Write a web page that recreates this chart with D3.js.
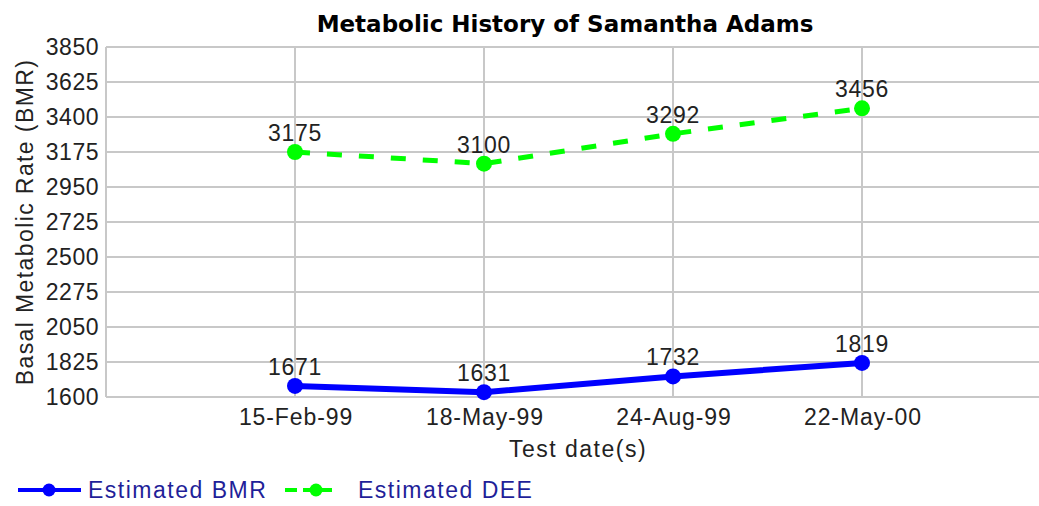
<!DOCTYPE html>
<html>
<head>
<meta charset="utf-8">
<script src="https://cdn.jsdelivr.net/npm/d3@7"></script>
<style>
  body { margin: 0; background: #fff; }
  text { font-family: "Liberation Sans", Arial, sans-serif; }
</style>
</head>
<body>
<div id="chart"></div>
<script>
  const dates = ["15-Feb-99", "18-May-99", "24-Aug-99", "22-May-00"]
  const bmr = [1671, 1631, 1732, 1819]
  const dee = [3175, 3100, 3292, 3456]
  const yTicks = [1600, 1825, 2050, 2275, 2500, 2725, 2950, 3175, 3400, 3625, 3850]

  const width = 1039, height = 506
  const plotLeft = 106, plotRight = 1051, plotTop = 47, plotBottom = 397

  const svg = d3.select("#chart")
    .append("svg")
    .attr("width", width)
    .attr("height", height)

  const x = d3.scalePoint()
    .domain(dates)
    .range([plotLeft, plotRight])
    .padding(1)

  const y = d3.scaleLinear()
    .domain([1600, 3850])
    .range([plotBottom, plotTop])

  // grid
  const grid = svg.append("g").attr("stroke", "#c8c8c8").attr("stroke-width", 2)
  grid.selectAll("line.h")
    .data(yTicks)
    .join("line")
    .attr("class", "h")
    .attr("x1", plotLeft).attr("x2", plotRight)
    .attr("y1", d => y(d)).attr("y2", d => y(d))
  grid.selectAll("line.v")
    .data(dates)
    .join("line")
    .attr("class", "v")
    .attr("x1", d => x(d)).attr("x2", d => x(d))
    .attr("y1", plotTop).attr("y2", plotBottom)
  grid.append("line")
    .attr("x1", plotLeft).attr("x2", plotLeft)
    .attr("y1", plotTop).attr("y2", plotBottom)

  // y tick labels
  svg.append("g")
    .attr("font-size", 23)
    .attr("letter-spacing", 0.5)
    .attr("fill", "#222")
    .attr("text-anchor", "end")
    .selectAll("text")
    .data(yTicks)
    .join("text")
    .attr("x", 99)
    .attr("y", d => y(d))
    .attr("dy", "0.36em")
    .text(d => d)

  // x tick labels
  svg.append("g")
    .attr("font-size", 23)
    .attr("letter-spacing", 0.9)
    .attr("fill", "#222")
    .attr("text-anchor", "middle")
    .selectAll("text")
    .data(dates)
    .join("text")
    .attr("x", d => x(d) + 1)
    .attr("y", 425)
    .text(d => d)

  // titles
  svg.append("text")
    .attr("x", 565).attr("y", 32)
    .attr("text-anchor", "middle")
    .attr("font-size", 23)
    .attr("font-weight", "bold")
    .style("font-family", "'DejaVu Sans', sans-serif")
    .attr("fill", "#000")
    .text("Metabolic History of Samantha Adams")

  svg.append("text")
    .attr("x", 578).attr("y", 457)
    .attr("text-anchor", "middle")
    .attr("font-size", 23)
    .attr("letter-spacing", 1.5)
    .attr("fill", "#222")
    .text("Test date(s)")

  svg.append("text")
    .attr("transform", `translate(33, ${(plotTop + plotBottom) / 2}) rotate(-90)`)
    .attr("text-anchor", "middle")
    .attr("font-size", 23)
    .attr("letter-spacing", 1.4)
    .attr("fill", "#222")
    .text("Basal Metabolic Rate (BMR)")

  const series = [
    { name: "Estimated BMR", values: bmr, color: "#0000ff", dash: null, width: 6 },
    { name: "Estimated DEE", values: dee, color: "#00ff00", dash: "15,17", width: 5 }
  ]

  const line = d3.line()
    .x((d, i) => x(dates[i]))
    .y(d => y(d))

  series.forEach(s => {
    svg.append("path")
      .datum(s.values)
      .attr("fill", "none")
      .attr("stroke", s.color)
      .attr("stroke-width", s.width)
      .attr("stroke-dasharray", s.dash)
      .attr("d", line)

    svg.append("g")
      .selectAll("circle")
      .data(s.values)
      .join("circle")
      .attr("cx", (d, i) => x(dates[i]))
      .attr("cy", d => y(d))
      .attr("r", 8)
      .attr("fill", s.color)

    svg.append("g")
      .attr("font-size", 23)
      .attr("letter-spacing", 0.7)
      .attr("fill", "#222")
      .attr("text-anchor", "middle")
      .selectAll("text")
      .data(s.values)
      .join("text")
      .attr("x", (d, i) => x(dates[i]))
      .attr("y", d => y(d) - 11)
      .text(d => d)
  })

  // legend
  const legendX = [18, 285]
  const legendLen = [63, 47]
  const legendDot = [31, 31]
  const legendText = [70, 73]
  const legend = svg.append("g")
    .selectAll("g")
    .data(series)
    .join("g")
    .attr("transform", (d, i) => `translate(${legendX[i]}, 490)`)

  legend.append("line")
    .attr("x1", 0).attr("x2", (d, i) => legendLen[i])
    .attr("stroke", d => d.color)
    .attr("stroke-width", 4)
    .attr("stroke-dasharray", d => d.dash ? "12,6" : null)
  legend.append("circle")
    .attr("cx", (d, i) => legendDot[i])
    .attr("r", 6.5)
    .attr("fill", d => d.color)
  legend.append("text")
    .attr("x", (d, i) => legendText[i])
    .attr("dy", "0.36em")
    .attr("font-size", 23)
    .attr("letter-spacing", 1.5)
    .attr("fill", "#1f1f99")
    .text(d => d.name)
</script>
</body>
</html>
